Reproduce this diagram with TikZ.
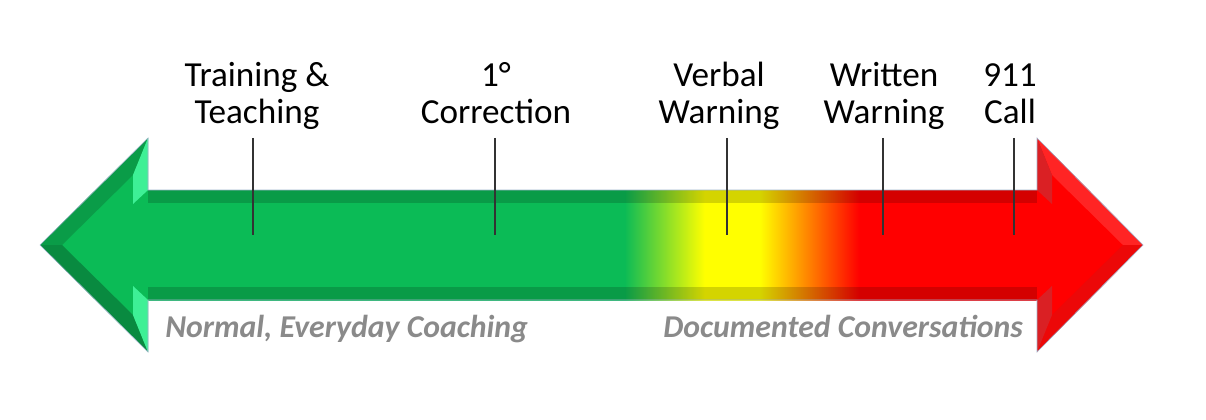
\documentclass[tikz,border=0pt]{standalone}
\usepackage{fontspec}
\setmainfont{Carlito}
\usepackage{xcolor}
\usepackage{tikz}

\definecolor{bargreen}{RGB}{11,187,86}
\definecolor{bandgreenA}{RGB}{10,156,72}
\definecolor{bandgreenB}{RGB}{9,138,64}
\definecolor{mint}{RGB}{62,240,150}
\definecolor{barred}{RGB}{255,0,0}
\definecolor{bandredA}{RGB}{255,36,36}
\definecolor{bandredB}{RGB}{236,8,8}
\definecolor{stripred}{RGB}{218,32,36}
\definecolor{notegray}{RGB}{138,138,138}
\definecolor{edgeblue}{RGB}{160,180,205}

% green -> yellow -> red along the shaft (25bp..75bp = shaft ends)
\pgfdeclarehorizontalshading{shaftshade}{100bp}{
    color(0bp)=(bargreen); color(51.8bp)=(bargreen);
    color(56.3bp)=(yellow); color(59.4bp)=(yellow);
    color(65bp)=(barred); color(100bp)=(barred)}

\begin{document}
\begin{tikzpicture}[
    x=0.025cm,y=-0.025cm,
    lbl/.style={align=center,inner sep=0pt,text depth=0pt,anchor=south,font=\fontsize{25}{26.3}\selectfont},
    note/.style={inner sep=0pt,anchor=base west,text=notegray,font=\fontsize{22.6}{26}\selectfont\bfseries\itshape},
    tick/.style={line width=1.3pt,draw=black!80},
    band/.style={fill=black,fill opacity=0.17}
]
    \useasboundingbox (0,0) rectangle (1206,420);

    % Arrow body
    \fill[bargreen] (40,245) -- (148,138) -- (148,190) -- (149,190) -- (149,300) -- (148,300) -- (148,352) -- cycle;
    \fill[barred] (1036,190) -- (1037,190) -- (1037,138) -- (1143,245) -- (1037,352) -- (1037,300) -- (1036,300) -- cycle;
    \shade[shading=shaftshade] (148,190) rectangle (1037,300);
    \fill[band] (148,190) rectangle (1037,203);
    \fill[band] (148,287) rectangle (1037,300);

    % Bevels
    \fill[bandgreenA] (148,138) -- (40,245) -- (62,245) -- (133,175) -- cycle;
    \fill[bandgreenB] (40,245) -- (148,352) -- (133,315) -- (62,245) -- cycle;
    \fill[mint] (148,138) -- (148,190) -- (133,204) -- (133,175) -- cycle;
    \fill[mint] (148,352) -- (148,300) -- (133,286) -- (133,315) -- cycle;
    \fill[bandredA] (1037,138) -- (1143,245) -- (1123,245) -- (1052,175) -- cycle;
    \fill[bandredB] (1143,245) -- (1037,352) -- (1052,315) -- (1123,245) -- cycle;
    \fill[stripred] (1037,138) -- (1037,190) -- (1052,204) -- (1052,175) -- cycle;
    \fill[stripred] (1037,352) -- (1037,300) -- (1052,286) -- (1052,315) -- cycle;
    \draw[edgeblue,line width=0.4pt] (40,245) -- (148,138) -- (148,190) -- (1037,190) -- (1037,138) -- (1143,245)
        -- (1037,352) -- (1037,300) -- (148,300) -- (148,352) -- cycle;

    % Labels
    \node[lbl] (train) at (257,124) {Training \&\\Teaching};
    \node[lbl] (corr) at (496,124) {1°\\Correction};
    \node[lbl] (verbal) at (719,124) {Verbal\\Warning};
    \node[lbl] (written) at (884,124) {Written\\Warning};
    \node[lbl] (call) at (1010,124) {911\\Call};

    \node[note] (normal) at (165,337) {Normal, Everyday Coaching};
    \node[note] (docs) at (663,337) {Documented Conversations};

    % Ticks
    \coordinate (tk1) at (253,235);
    \coordinate (tk2) at (495,235);
    \coordinate (tk3) at (727,235);
    \coordinate (tk4) at (883,235);
    \coordinate (tk5) at (1014,235);
    \draw[tick] (tk1 |- train.south) ++(0,14) -- (tk1);
    \draw[tick] (tk2 |- corr.south) ++(0,14) -- (tk2);
    \draw[tick] (tk3 |- verbal.south) ++(0,14) -- (tk3);
    \draw[tick] (tk4 |- written.south) ++(0,14) -- (tk4);
    \draw[tick] (tk5 |- call.south) ++(0,14) -- (tk5);
\end{tikzpicture}
\end{document}
